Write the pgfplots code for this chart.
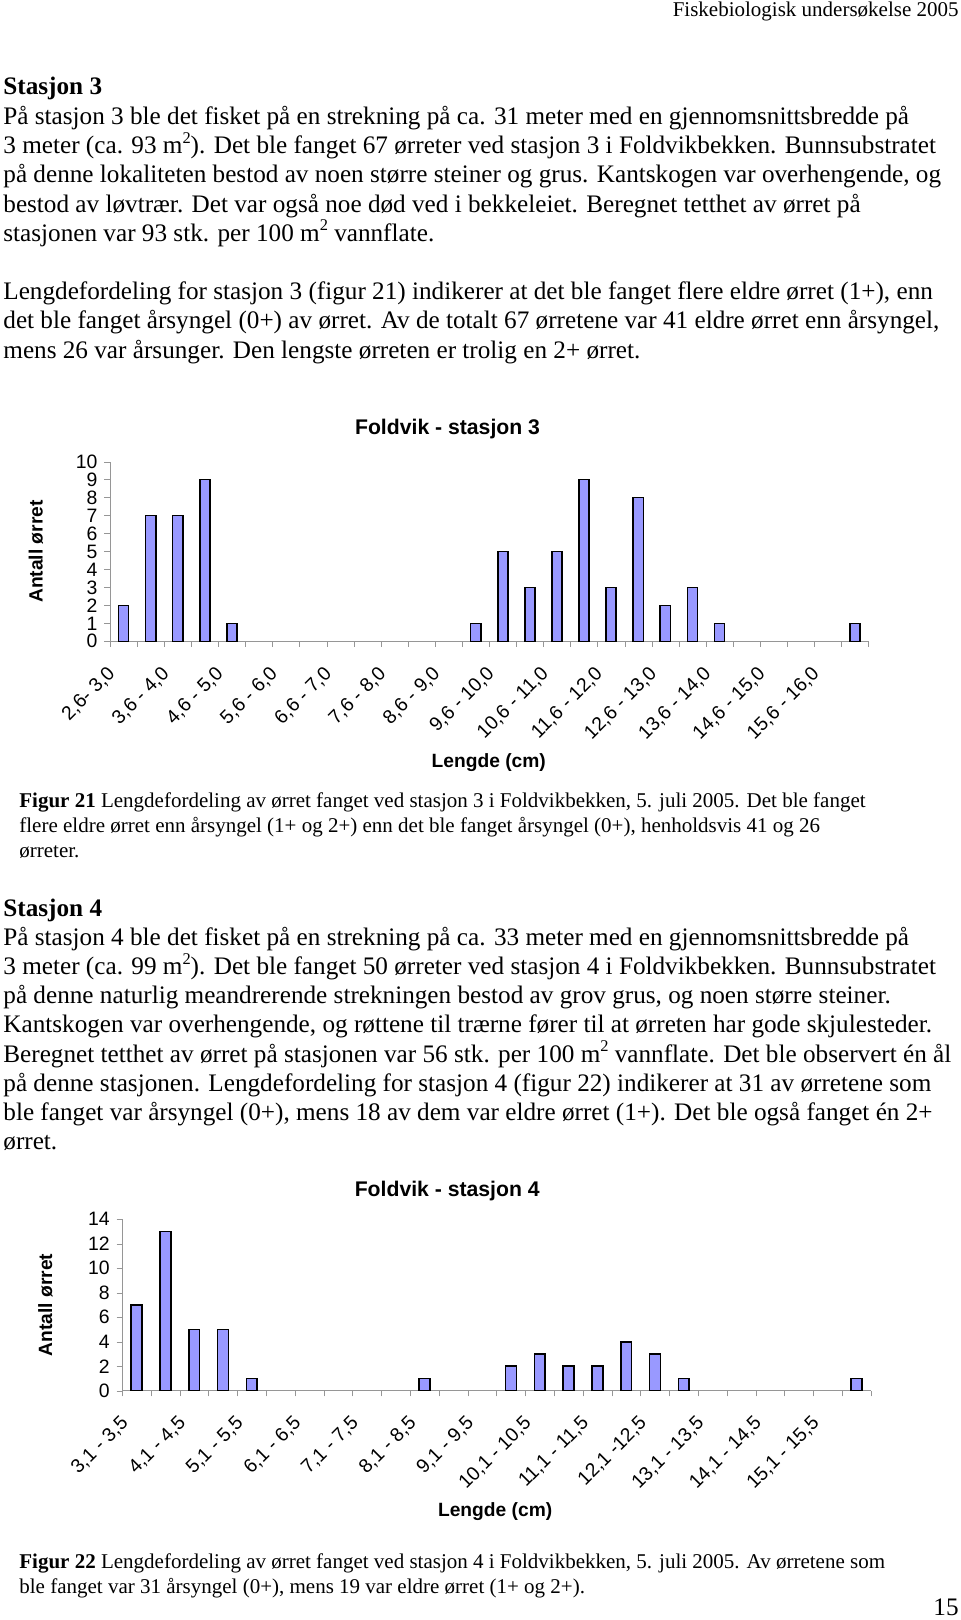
\documentclass[border=0pt]{standalone}
\usepackage{pgfplots}
\pgfplotsset{compat=1.18}
\usepackage{fontspec}
\setmainfont{Liberation Serif}
\newfontfamily\arial{Liberation Sans}
\definecolor{barc}{RGB}{153,153,255}
\definecolor{axc}{RGB}{150,150,150}
\newcommand\body{\fontsize{12.6}{14.6}\selectfont}
\newcommand\capt{\fontsize{10.5}{12.2}\selectfont}
\newcommand\head{\fontsize{10.5}{12.2}\selectfont}
\newcommand\sq{\raisebox{5.2pt}{\fontsize{8.2}{9}\selectfont 2}}
\pgfplotsset{
  hist/.style={
    scale only axis, anchor=south west,
    axis x line*=bottom, axis y line*=left,
    axis line style={draw=axc,-}, 
    tick align=outside,
    major tick style={draw=axc},
    minor tick style={draw=axc},
    every major x tick/.append style={draw=none},
    ymin=0,
    xmin=-0.5,
    ybar,
    x tick label style={font=\arial\fontsize{9.7}{11}\selectfont, yshift=-11.9pt, xshift=-5.7pt, rotate=45, anchor=east, inner sep=0pt},
    y tick label style={font=\arial\fontsize{9.7}{11}\selectfont},
    /pgf/number format/assume math mode=true,
    minor tick length=2.8pt,
    major tick length=2.8pt,
    every axis title/.style={font=\arial\bfseries\fontsize{10.6}{12}\selectfont, anchor=base},
    xlabel style={font=\arial\bfseries\fontsize{9.6}{11}\selectfont, anchor=base},
    ylabel style={font=\arial\bfseries\fontsize{9.6}{11}\selectfont, anchor=center},
  },
  histbar/.style={ybar, fill=barc, draw=black, line width=0.8pt, mark=none},
}
\begin{document}
\begin{tikzpicture}
\useasboundingbox[fill=white] (0,0) rectangle (480pt,-810pt);
% header
\node[anchor=base east, inner sep=0, font=\head] at (479.5pt,-8.5pt) {Fiskebiologisk undersøkelse 2005};
% Stasjon 3
\node[anchor=base west, inner sep=0, font=\body\bfseries] at (1.5pt,-47.5pt) {Stasjon 3};
\node[anchor=base west, inner sep=0, font=\body] at (1.5pt,-62.25pt) {På stasjon 3 ble det fisket på en strekning på ca. 31 meter med en gjennomsnittsbredde på};
\node[anchor=base west, inner sep=0, font=\body] at (1.5pt,-76.85pt) {3 meter (ca. 93 m\sq). Det ble fanget 67 ørreter ved stasjon 3 i Foldvikbekken. Bunnsubstratet};
\node[anchor=base west, inner sep=0, font=\body] at (1.5pt,-91.45pt) {på denne lokaliteten bestod av noen større steiner og grus. Kantskogen var overhengende, og};
\node[anchor=base west, inner sep=0, font=\body] at (1.5pt,-106.05pt) {bestod av løvtrær. Det var også noe død ved i bekkeleiet. Beregnet tetthet av ørret på};
\node[anchor=base west, inner sep=0, font=\body] at (1.5pt,-120.65pt) {stasjonen var 93 stk. per 100 m\sq{} vannflate.};
\node[anchor=base west, inner sep=0, font=\body] at (1.5pt,-149.85pt) {Lengdefordeling for stasjon 3 (figur 21) indikerer at det ble fanget flere eldre ørret (1+), enn};
\node[anchor=base west, inner sep=0, font=\body] at (1.5pt,-164.45pt) {det ble fanget årsyngel (0+) av ørret. Av de totalt 67 ørretene var 41 eldre ørret enn årsyngel,};
\node[anchor=base west, inner sep=0, font=\body] at (1.5pt,-179.05pt) {mens 26 var årsunger. Den lengste ørreten er trolig en 2+ ørret.};
% chart 3
\begin{axis}[hist,
  at={(55pt,-320.65pt)}, width=379.25pt, height=89.8pt,
  xmax=27.5, ymax=10,
  ytick={0,1,...,10},
  xtick={0,2,...,26},
  minor xtick={-0.5,0.5,...,27.5},
  xticklabels={{2,6- 3,0},{3,6 - 4,0},{4,6 - 5,0},{5,6 - 6,0},{6,6 - 7,0},{7,6 - 8,0},{8,6 - 9,0},{9,6 - 10,0},{10,6 - 11,0},{11,6 - 12,0},{12,6 - 13,0},{13,6 - 14,0},{14,6 - 15,0},{15,6 - 16,0}},
  bar width=5.1pt,
  title={Foldvik - stasjon 3}, title style={at={(axis description cs:0.445,1.152)}},
  xlabel={Lengde (cm)}, xlabel style={at={(axis description cs:0.4994,-0.703)}},
  ylabel={Antall ørret}, ylabel style={at={(axis description cs:-0.0976,0.5)}},
]
\addplot[histbar] coordinates {(0,2) (1,7) (2,7) (3,9) (4,1) (13,1) (14,5) (15,3) (16,5) (17,9) (18,3) (19,8) (20,2) (21,3) (22,1) (27,1)};
\end{axis}
% caption 21
\node[anchor=base west, inner sep=0, font=\capt] at (9.5pt,-403.5pt) {\textbf{Figur 21} Lengdefordeling av ørret fanget ved stasjon 3 i Foldvikbekken, 5. juli 2005. Det ble fanget};
\node[anchor=base west, inner sep=0, font=\capt] at (9.5pt,-416pt) {flere eldre ørret enn årsyngel (1+ og 2+) enn det ble fanget årsyngel (0+), henholdsvis 41 og 26};
\node[anchor=base west, inner sep=0, font=\capt] at (9.5pt,-428.5pt) {ørreter.};
% Stasjon 4
\node[anchor=base west, inner sep=0, font=\body\bfseries] at (1.5pt,-458.05pt) {Stasjon 4};
\node[anchor=base west, inner sep=0, font=\body] at (1.5pt,-472.65pt) {På stasjon 4 ble det fisket på en strekning på ca. 33 meter med en gjennomsnittsbredde på};
\node[anchor=base west, inner sep=0, font=\body] at (1.5pt,-487.25pt) {3 meter (ca. 99 m\sq). Det ble fanget 50 ørreter ved stasjon 4 i Foldvikbekken. Bunnsubstratet};
\node[anchor=base west, inner sep=0, font=\body] at (1.5pt,-501.85pt) {på denne naturlig meandrerende strekningen bestod av grov grus, og noen større steiner.};
\node[anchor=base west, inner sep=0, font=\body] at (1.5pt,-516.45pt) {Kantskogen var overhengende, og røttene til trærne fører til at ørreten har gode skjulesteder.};
\node[anchor=base west, inner sep=0, font=\body] at (1.5pt,-531.05pt) {Beregnet tetthet av ørret på stasjonen var 56 stk. per 100 m\sq{} vannflate. Det ble observert én ål};
\node[anchor=base west, inner sep=0, font=\body] at (1.5pt,-545.65pt) {på denne stasjonen. Lengdefordeling for stasjon 4 (figur 22) indikerer at 31 av ørretene som};
\node[anchor=base west, inner sep=0, font=\body] at (1.5pt,-560.25pt) {ble fanget var årsyngel (0+), mens 18 av dem var eldre ørret (1+). Det ble også fanget én 2+};
\node[anchor=base west, inner sep=0, font=\body] at (1.5pt,-574.85pt) {ørret.};
% chart 4
\begin{axis}[hist,
  at={(61.15pt,-695.35pt)}, width=374.35pt, height=85.7pt,
  xmax=25.5, ymax=14,
  ytick={0,2,...,14},
  xtick={0,2,...,24},
  minor xtick={-0.5,0.5,...,25.5},
  xticklabels={{3,1 - 3,5},{4,1 - 4,5},{5,1 - 5,5},{6,1 - 6,5},{7,1 - 7,5},{8,1 - 8,5},{9,1 - 9,5},{10,1 - 10,5},{11,1 - 11,5},{12,1 -12,5},{13,1 - 13,5},{14,1 - 14,5},{15,1 - 15,5}},
  bar width=5.4pt,
  title={Foldvik - stasjon 4}, title style={at={(axis description cs:0.434,1.136)}},
  xlabel={Lengde (cm)}, xlabel style={at={(axis description cs:0.498,-0.735)}},
  ylabel={Antall ørret}, ylabel style={at={(axis description cs:-0.1026,0.5)}},
]
\addplot[histbar] coordinates {(0,7) (1,13) (2,5) (3,5) (4,1) (10,1) (13,2) (14,3) (15,2) (16,2) (17,4) (18,3) (19,1) (25,1)};
\end{axis}
% caption 22
\node[anchor=base west, inner sep=0, font=\capt] at (9.5pt,-784pt) {\textbf{Figur 22} Lengdefordeling av ørret fanget ved stasjon 4 i Foldvikbekken, 5. juli 2005. Av ørretene som};
\node[anchor=base west, inner sep=0, font=\capt] at (9.5pt,-796.5pt) {ble fanget var 31 årsyngel (0+), mens 19 var eldre ørret (1+ og 2+).};
\node[anchor=base east, inner sep=0, font=\body] at (479.5pt,-807.5pt) {15};
\end{tikzpicture}
\end{document}
